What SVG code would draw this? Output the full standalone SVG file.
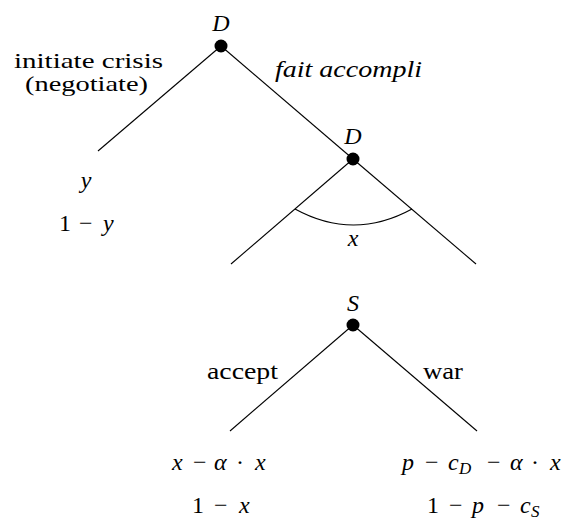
<svg xmlns="http://www.w3.org/2000/svg" width="567" height="524" viewBox="0 0 567 524">
<style>
text{font-size:24px;fill:#000}
.i{font-style:italic}
.m{text-anchor:middle}
.sm{font-size:21px}
.sub{font-size:17px;font-style:italic}
line,path{stroke:#000;stroke-width:1.1;fill:none}
.node{fill:#000}
</style>
<g id="connectors">
<line x1="221" y1="46" x2="98" y2="151"/>
<line x1="221" y1="46" x2="353" y2="159"/>
<line x1="353" y1="159" x2="231" y2="264"/>
<line x1="353" y1="159" x2="476" y2="264"/>
<path d="M295 209 Q353.5 241 412 209"/>
<line x1="353" y1="325" x2="230" y2="431"/>
<line x1="353" y1="325" x2="477" y2="431"/>
</g>
<g font-family="Liberation Serif, Times New Roman, serif">
<g id="node-D1">
<circle class="node" cx="221" cy="46" r="6.5"/>
<text class="i m" x="221" y="31">D</text>
</g>
<g id="node-D2">
<circle class="node" cx="353" cy="159" r="6.5"/>
<text class="i m" x="353" y="144">D</text>
</g>
<g id="node-S">
<circle class="node" cx="353" cy="325" r="6.5"/>
<text class="i m" x="353" y="311">S</text>
</g>
<g id="labels">
<text class="sm" x="14" y="68" textLength="149" lengthAdjust="spacingAndGlyphs">initiate crisis</text>
<text class="sm" x="25" y="91" textLength="123" lengthAdjust="spacingAndGlyphs">(negotiate)</text>
<text class="i" x="275" y="77" textLength="147" lengthAdjust="spacingAndGlyphs">fait accompli</text>
<text class="i m" x="86" y="188">y</text>
<text y="231"><tspan x="59">1</tspan><tspan x="79">−</tspan><tspan class="i" x="103">y</tspan></text>
<text class="i m" x="353" y="246">x</text>
<text x="207" y="379" textLength="71" lengthAdjust="spacingAndGlyphs">accept</text>
<text x="423" y="379" textLength="40" lengthAdjust="spacingAndGlyphs">war</text>
<text y="470"><tspan class="i" x="172">x</tspan><tspan x="193">−</tspan><tspan class="i" x="214">α</tspan><tspan x="236">·</tspan><tspan class="i" x="255">x</tspan></text>
<text y="513"><tspan x="192">1</tspan><tspan x="214">−</tspan><tspan class="i" x="239">x</tspan></text>
<text y="470"><tspan class="i" x="402">p</tspan><tspan x="425">−</tspan><tspan class="i" x="448">c</tspan><tspan class="sub" x="459" dy="4">D</tspan><tspan x="487" dy="-4">−</tspan><tspan class="i" x="510">α</tspan><tspan x="531">·</tspan><tspan class="i" x="550">x</tspan></text>
<text y="513"><tspan x="427">1</tspan><tspan x="449">−</tspan><tspan class="i" x="472">p</tspan><tspan x="497">−</tspan><tspan class="i" x="520">c</tspan><tspan class="sub" x="531" dy="4">S</tspan></text>
</g>
</g>
</svg>
